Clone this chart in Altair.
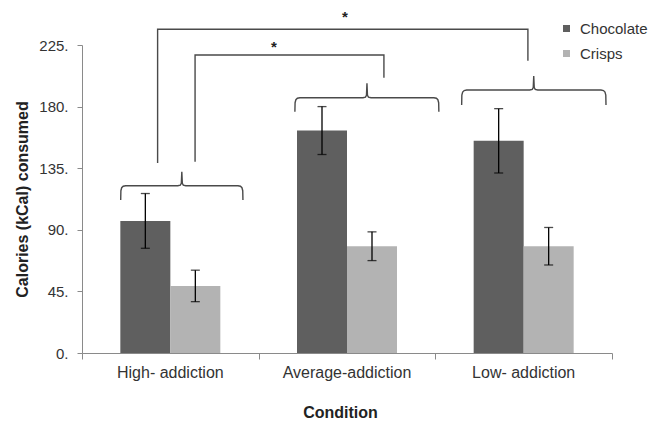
import altair as alt
import pandas as pd

# ---------------- data ----------------
conditions = ["High- addiction", "Average-addiction", "Low- addiction"]
snacks = ["Chocolate", "Crisps"]
chocolate_mean = [96.5, 162.5, 155.0]
chocolate_err = [20.0, 17.5, 23.5]
crisps_mean = [49.0, 78.0, 78.0]
crisps_err = [11.5, 10.5, 13.7]
snack_colors = ["#5f5f5f", "#b3b3b3"]
y_ticks = [0, 45, 90, 135, 180, 225]

# annotation geometry in data units (x: category index space 0..3, y: kCal)
# braces: x start, x end, tip x, y of hooks' ends, y of brace line, y of tip
brace_x0 = [0.219, 1.205, 2.149]
brace_x1 = [0.911, 2.020, 2.966]
brace_xm = [0.565, 1.613, 2.557]
brace_yend = [111.8, 176.3, 181.2]
brace_yh = [122.2, 186.5, 192.1]
brace_ytip = [132.4, 197.0, 202.3]
# significance brackets: left x, right x, left bottom y, right bottom y, top y
sig_xl = [0.428, 0.640]
sig_xr = [2.524, 1.709]
sig_yl = [138.8, 139.7]
sig_yr = [213.5, 201.1]
sig_top = [236.5, 217.7]
star_x = [1.488, 1.087]
star_y = [241.6, 220.0]

# ---------------- tables ----------------
rows = []
for i, c in enumerate(conditions):
    rows.append({"Condition": c, "Snack": "Chocolate", "mean": chocolate_mean[i],
                 "lo": chocolate_mean[i] - chocolate_err[i], "hi": chocolate_mean[i] + chocolate_err[i]})
    rows.append({"Condition": c, "Snack": "Crisps", "mean": crisps_mean[i],
                 "lo": crisps_mean[i] - crisps_err[i], "hi": crisps_mean[i] + crisps_err[i]})
df = pd.DataFrame(rows)

PXX = 530 / 3.0      # px per x unit
PXY = 308 / 225.0    # px per kCal


def brace_points(k):
    x0, x1, xm = brace_x0[k], brace_x1[k], brace_xm[k]
    ye, yh, yt = brace_yend[k], brace_yh[k], brace_ytip[k]
    dx = lambda p: p / PXX
    dy = lambda p: p / PXY
    pts = [
        (x0, ye), (x0 + dx(0.2), yh - dy(5)), (x0 + dx(1), yh - dy(2)), (x0 + dx(2.5), yh - dy(0.5)),
        (x0 + dx(5), yh),
        (xm - dx(4), yh), (xm - dx(1.5), yh + dy(0.6)), (xm - dx(0.5), yh + dy(2.5)), (xm, yt),
        (xm + dx(0.5), yh + dy(2.5)), (xm + dx(1.5), yh + dy(0.6)), (xm + dx(4), yh),
        (x1 - dx(5), yh), (x1 - dx(2.5), yh - dy(0.5)), (x1 - dx(1), yh - dy(2)), (x1 - dx(0.2), yh - dy(5)),
        (x1, ye),
    ]
    return pts


line_rows = []
for k in range(3):
    for j, (x, y) in enumerate(brace_points(k)):
        line_rows.append({"id": f"brace{k}", "i": j, "x": x, "y": y})
for k in range(2):
    pts = [(sig_xl[k], sig_yl[k]), (sig_xl[k], sig_top[k]), (sig_xr[k], sig_top[k]), (sig_xr[k], sig_yr[k])]
    for j, (x, y) in enumerate(pts):
        line_rows.append({"id": f"sig{k}", "i": j, "x": x, "y": y})
lines_df = pd.DataFrame(line_rows)
stars_df = pd.DataFrame({"x": star_x, "y": star_y, "t": ["*", "*"]})

# ---------------- encodings ----------------
yscale = alt.Scale(domain=[0, 225], nice=False, zero=True)
yaxis = alt.Axis(values=y_ticks, labelExpr="datum.label + '.'", grid=False, tickSize=5,
                 labelPadding=9, labelFontSize=15, labelColor="#333333",
                 domainColor="#8a8a8a", tickColor="#8a8a8a",
                 title="Calories (kCal) consumed", titleFontSize=16, titleFontWeight="bold",
                 titleColor="#222222", titleX=-55, titleY=154, titleBaseline="alphabetic",
                 titleAngle=-90)

xband_axis = alt.Axis(domain=False, ticks=False, tickSize=0, labelAngle=0, labelPadding=24.7,
                      labelBaseline="alphabetic", labelFontSize=16, labelColor="#333333",
                      title="Condition", titleFontSize=16, titleFontWeight="bold",
                      titleColor="#222222", titleX=258, titleY=64.3,
                      titleBaseline="alphabetic", titleAlign="center")
xband_scale = alt.Scale(paddingInner=0, paddingOuter=0)


def xband():
    return alt.X("Condition:N", sort=conditions, scale=xband_scale, axis=xband_axis)


xoff = alt.XOffset("Snack:N", sort=snacks, scale=alt.Scale(paddingInner=0, paddingOuter=0.7667))

bars = alt.Chart(df).mark_bar(strokeWidth=0).encode(
    x=xband(),
    xOffset=xoff,
    y=alt.Y("mean:Q", scale=yscale, axis=yaxis),
    color=alt.Color("Snack:N", sort=snacks,
                    scale=alt.Scale(domain=snacks, range=snack_colors),
                    legend=alt.Legend(orient="none", legendX=477, legendY=-24, title=None,
                                      symbolType="square", symbolSize=49, symbolStrokeWidth=0,
                                      labelFontSize=15, labelColor="#333333", labelOffset=6,
                                      rowPadding=9, padding=0)),
)

err = alt.Chart(df).mark_rule(color="black", strokeWidth=1.3).encode(
    x=xband(), xOffset=xoff,
    y=alt.Y("lo:Q", scale=yscale, axis=yaxis), y2="hi:Q",
)

caps = alt.Chart(df).transform_fold(["lo", "hi"], as_=["end", "val"]).mark_tick(
    color="black", size=9, thickness=1.3).encode(
    x=xband(), xOffset=xoff,
    y=alt.Y("val:Q", scale=yscale, axis=yaxis),
)

main = alt.layer(bars, err, caps)

xq_axis = alt.Axis(values=[0, 1, 2, 3], labels=False, ticks=True, tickSize=6, domain=True,
                   grid=False, title=None, orient="bottom",
                   domainColor="#8a8a8a", tickColor="#8a8a8a")
xq_scale = alt.Scale(domain=[0, 3], nice=False, zero=False)

ann_lines = alt.Chart(lines_df).mark_line(color="#4a4a4a", strokeWidth=1.4).encode(
    x=alt.X("x:Q", scale=xq_scale, axis=xq_axis),
    y=alt.Y("y:Q", scale=yscale, axis=yaxis),
    detail="id:N",
    order="i:Q",
)

stars = alt.Chart(stars_df).mark_text(fontSize=15, fontWeight="bold", color="#222222",
                                      baseline="alphabetic", align="center").encode(
    x=alt.X("x:Q", scale=xq_scale, axis=xq_axis),
    y=alt.Y("y:Q", scale=yscale, axis=yaxis),
    text="t:N",
)

ann = alt.layer(ann_lines, stars)

chart = alt.layer(main, ann).resolve_scale(x="independent").properties(
    width=530, height=308,
    autosize=alt.AutoSizeParams(type="none"),
    padding={"left": 74, "top": 37, "right": 39, "bottom": 67},
).configure(font="Liberation Sans").configure_view(stroke=None)

chart.save("out.html", embed_options={"renderer": "svg", "actions": False})
